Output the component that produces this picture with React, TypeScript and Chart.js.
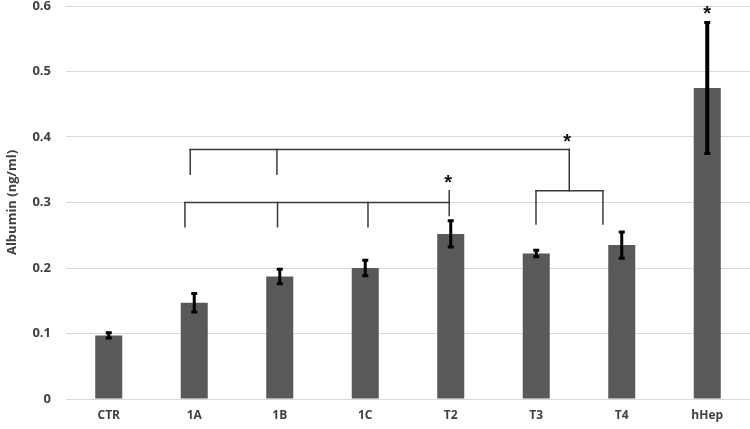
import React, { useEffect, useRef } from "react";
import { Chart, registerables } from "chart.js";

Chart.register(...registerables);

const categories = ["CTR", "1A", "1B", "1C", "T2", "T3", "T4", "hHep"];
const albumin = [0.097, 0.147, 0.187, 0.2, 0.252, 0.222, 0.235, 0.475];
const errors = [0.004, 0.014, 0.011, 0.012, 0.02, 0.005, 0.02, 0.1];
const yTicks = [0, 0.1, 0.2, 0.3, 0.4, 0.5, 0.6];

// significance annotations (x in category index units, y in value units)
const bracketSegments: [number, number, number, number][] = [
  // upper bracket
  [0.953, 0.381, 5.386, 0.381],
  [0.953, 0.381, 0.953, 0.343],
  [1.967, 0.381, 1.967, 0.343],
  [5.386, 0.381, 5.386, 0.318],
  [4.997, 0.318, 5.78, 0.318],
  [4.997, 0.318, 4.997, 0.267],
  [5.78, 0.318, 5.78, 0.267],
  // lower bracket
  [0.891, 0.3, 3.982, 0.3],
  [0.891, 0.3, 0.891, 0.263],
  [1.974, 0.3, 1.974, 0.263],
  [3.032, 0.3, 3.032, 0.263],
  [3.982, 0.318, 3.982, 0.28],
];
const asterisks: [number, number][] = [
  [3.97, 0.337],
  [5.36, 0.4],
  [7.0, 0.595],
];

const overlayPlugin = {
  id: "overlay",
  afterDatasetsDraw(chart: any) {
    const { ctx, scales } = chart;
    const xs = scales.x;
    const ys = scales.y;
    ctx.save();
    // error bars
    ctx.strokeStyle = "#000";
    ctx.lineCap = "butt";
    albumin.forEach((v, i) => {
      const x = xs.getPixelForValue(i);
      const yTop = ys.getPixelForValue(v + errors[i]);
      const yBot = ys.getPixelForValue(v - errors[i]);
      ctx.lineWidth = i === 7 ? 4 : 3;
      ctx.beginPath();
      ctx.moveTo(x, yTop);
      ctx.lineTo(x, yBot);
      ctx.stroke();
      ctx.lineWidth = 3;
      ctx.beginPath();
      ctx.moveTo(x - 3, yTop);
      ctx.lineTo(x + 3, yTop);
      ctx.moveTo(x - 3, yBot);
      ctx.lineTo(x + 3, yBot);
      ctx.stroke();
    });
    // brackets
    ctx.strokeStyle = "#3a3a3a";
    ctx.lineWidth = 1.5;
    ctx.lineCap = "square";
    bracketSegments.forEach(([x1, y1, x2, y2]) => {
      ctx.beginPath();
      ctx.moveTo(xs.getPixelForValue(x1), ys.getPixelForValue(y1));
      ctx.lineTo(xs.getPixelForValue(x2), ys.getPixelForValue(y2));
      ctx.stroke();
    });
    // asterisks
    ctx.fillStyle = "#111";
    ctx.font = "bold 20px 'Liberation Sans', sans-serif";
    ctx.textAlign = "center";
    ctx.textBaseline = "alphabetic";
    asterisks.forEach(([x, y]) => {
      ctx.fillText("*", xs.getPixelForValue(x), ys.getPixelForValue(y) + 11);
    });
    ctx.restore();
  },
};

export default function App() {
  const ref = useRef<HTMLCanvasElement>(null);
  useEffect(() => {
    if (!ref.current) return;
    const chart = new Chart(ref.current, {
      type: "bar",
      data: {
        labels: categories,
        datasets: [
          {
            data: albumin,
            backgroundColor: "#595959",
            barPercentage: 0.316,
            categoryPercentage: 1,
          },
        ],
      },
      options: {
        responsive: false,
        animation: false,
        devicePixelRatio: 1,
        layout: { padding: { top: 6, right: 0, left: 0, bottom: 0 } },
        plugins: { legend: { display: false }, tooltip: { enabled: false } },
        scales: {
          x: {
            grid: { display: false, drawTicks: false },
            border: { display: false },
            ticks: {
              padding: 9,
              color: "#404040",
              font: { family: "'Open Sans', sans-serif", size: 12, weight: "bold" },
            },
            afterFit(scale: any) {
              scale.height = 30;
              scale.paddingLeft = 0;
              scale.paddingRight = 0;
            },
          },
          y: {
            min: 0,
            max: 0.6,
            afterBuildTicks(scale: any) {
              scale.ticks = yTicks.map((v) => ({ value: v }));
            },
            grid: { color: "#d9d9d9", lineWidth: 1, drawTicks: false },
            border: { display: false },
            ticks: {
              padding: 15,
              color: "#404040",
              font: { family: "'Open Sans', sans-serif", size: 13, weight: "bold" },
              callback: (v: any) => String(Math.round(Number(v) * 10) / 10),
            },
            title: {
              display: true,
              text: "Albumin (ng/ml)",
              color: "#404040",
              font: { family: "'Open Sans', sans-serif", size: 13, weight: "bold" },
              padding: 4,
            },
            afterFit(scale: any) {
              scale.width = 66;
              scale.paddingTop = 0;
              scale.paddingBottom = 0;
            },
          },
        },
      },
      plugins: [overlayPlugin],
    });
    return () => chart.destroy();
  }, []);
  return (
    <div style={{ position: "absolute", left: 0, top: 0, width: 750, height: 429, background: "#fff" }}>
      <canvas ref={ref} width={750} height={429} />
    </div>
  );
}
